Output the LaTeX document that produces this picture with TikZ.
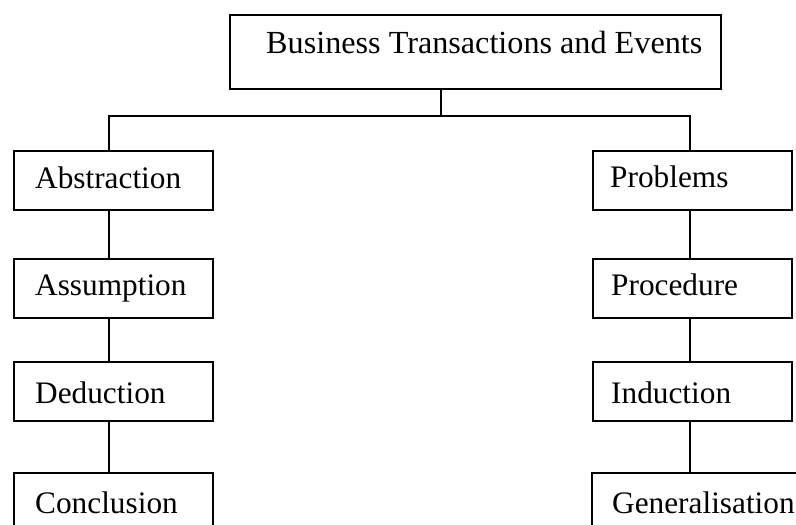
\documentclass[tikz,border=0pt]{standalone}
\usepackage{fontspec}
\setmainfont{Liberation Serif}
\begin{document}
\begin{tikzpicture}[x=1pt,y=-1pt,
  box/.style={draw,line width=1.7pt,anchor=north west,inner sep=0pt,minimum width=199pt,minimum height=59pt},
  lbl/.style={anchor=base west,inner sep=0pt,font=\fontsize{31.3}{36}\selectfont},
  conn/.style={line width=1.7pt}]
\useasboundingbox (0,0) rectangle (796,525);
\clip (0,0) rectangle (796,525);
% top box
\node[box,minimum width=491pt,minimum height=74pt] (top) at (229,14) {};
\node[lbl,font=\fontsize{32.2}{36}\selectfont] (ttop) at (266,53) {Business Transactions and Events};
% left column
\node[box] (abs) at (13,150) {};
\node[box] (ass) at (13,258) {};
\node[box] (ded) at (13,361) {};
\node[box] (con) at (13,472) {};
\node[lbl] (tabs) at (35,188) {Abstraction};
\node[lbl] (tass) at (35,295) {Assumption};
\node[lbl] (tded) at (35,403) {Deduction};
\node[lbl] (tcon) at (35,513) {Conclusion};
% right column
\node[box] (prob) at (592,150) {};
\node[box] (proc) at (592,258) {};
\node[box] (ind) at (592,361) {};
\node[box,minimum width=215pt] (gen) at (591,472) {};
\node[lbl] (tprob) at (610,187) {Problems};
\node[lbl] (tproc) at (611,295) {Procedure};
\node[lbl] (tind) at (611,403) {Induction};
\node[lbl] (tgen) at (612,513) {Generalisation};
% connectors
\coordinate (j) at (441,116);
\coordinate (lx) at (109,0);
\coordinate (rx) at (690,0);
\draw[conn] (top.south -| j) -- (j);
\draw[conn] (abs.north -| lx) |- (j) -| (prob.north -| rx);
\draw[conn] (abs.south -| lx) -- (ass.north -| lx);
\draw[conn] (ass.south -| lx) -- (ded.north -| lx);
\draw[conn] (ded.south -| lx) -- (con.north -| lx);
\draw[conn] (prob.south -| rx) -- (proc.north -| rx);
\draw[conn] (proc.south -| rx) -- (ind.north -| rx);
\draw[conn] (ind.south -| rx) -- (gen.north -| rx);
\end{tikzpicture}
\end{document}
